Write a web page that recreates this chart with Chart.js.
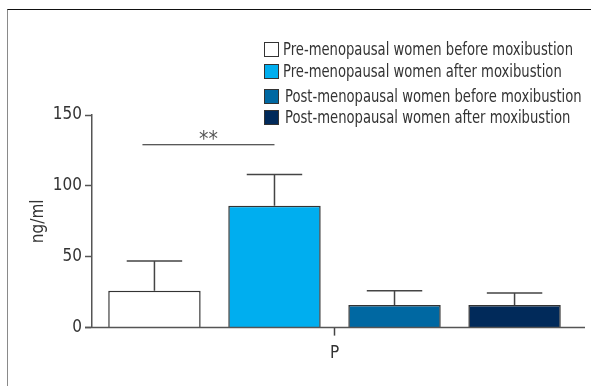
<!DOCTYPE html>
<html>
<head>
<meta charset="utf-8">
<script src="https://cdn.jsdelivr.net/npm/chart.js@4"></script>
<style>
  html, body { margin: 0; padding: 0; background: #fff; }
  #wrap { position: relative; width: 591px; height: 386px; overflow: hidden; }
  #frame { position: absolute; left: 7px; top: 9px; width: 700px; height: 500px;
           border-left: 1.5px solid #8a8a8a; border-top: 1px solid #111; }
  #chart { position: absolute; left: 0; top: 0; }
</style>
</head>
<body>
<div id="wrap">
  <div id="frame"></div>
  <canvas id="chart" width="591" height="386"></canvas>
</div>
<script>
// データ
const categories = ["P"];
const seriesLabels = [
  "Pre-menopausal women before moxibustion",
  "Pre-menopausal women after moxibustion",
  "Post-menopausal women before moxibustion",
  "Post-menopausal women after moxibustion",
];
const means = [26, 86, 16, 16];
const errorTops = [47, 108, 26, 24.5];
const yTicks = [0, 50, 100, 150];
const sigValue = 129;

const BAR_COLORS = ["#ffffff", "#00aeef", "#0068a2", "#012a5a"];
const FONT = "'Liberation Sans Narrow', 'DejaVu Sans Condensed', sans-serif";
const INK = "#333";

// エラーバー・有意差・凡例を描く
const extras = {
  id: "extras",
  afterDatasetsDraw(chart) {
    const ctx = chart.ctx;
    const y = chart.scales.y;
    ctx.save();
    ctx.strokeStyle = "#444";
    ctx.lineWidth = 1.5;
    chart.data.datasets.forEach((ds, i) => {
      const bar = chart.getDatasetMeta(i).data[0];
      const yTop = y.getPixelForValue(errorTops[i]);
      const yBar = y.getPixelForValue(means[i]);
      const cap = bar.width * 0.3;
      ctx.beginPath();
      ctx.moveTo(bar.x, yBar);
      ctx.lineTo(bar.x, yTop);
      ctx.moveTo(bar.x - cap, yTop);
      ctx.lineTo(bar.x + cap, yTop);
      ctx.stroke();
    });

    // ** の線
    const b0 = chart.getDatasetMeta(0).data[0];
    const b1 = chart.getDatasetMeta(1).data[0];
    const ys = y.getPixelForValue(sigValue);
    ctx.strokeStyle = "#222";
    ctx.lineWidth = 1.2;
    ctx.beginPath();
    ctx.moveTo(b0.x - 12, ys);
    ctx.lineTo(b1.x, ys);
    ctx.stroke();
    ctx.fillStyle = "#555";
    ctx.font = "21px " + FONT;
    ctx.textAlign = "center";
    ctx.textBaseline = "middle";
    ctx.fillText("**", (b0.x - 12 + b1.x) / 2, ys - 4);

    // x軸を0目盛りの左まで延長
    ctx.strokeStyle = "#555";
    ctx.lineWidth = 1.5;
    const y0 = y.getPixelForValue(0);
    ctx.beginPath();
    ctx.moveTo(chart.chartArea.left - 7, y0);
    ctx.lineTo(585, y0);
    ctx.stroke();

    // 凡例（文字は横方向に圧縮してコンデンス書体に寄せる）
    const rows = [49, 71, 96, 117];
    const textX = [283, 283, 285, 285];
    ctx.font = "18px " + FONT;
    ctx.textAlign = "left";
    const sx = 290 / ctx.measureText(seriesLabels[0]).width;
    chart.data.datasets.forEach((ds, i) => {
      ctx.fillStyle = ds.backgroundColor;
      ctx.fillRect(264, rows[i] - 7, 15, 15);
      ctx.strokeStyle = "#333";
      ctx.lineWidth = 1;
      ctx.strokeRect(264.5, rows[i] - 6.5, 14, 14);
      ctx.save();
      ctx.translate(textX[i], rows[i] + 1);
      ctx.scale(sx, 1);
      ctx.fillStyle = INK;
      ctx.fillText(ds.label, 0, 0);
      ctx.restore();
    });
    ctx.restore();
  },
};

new Chart(document.getElementById("chart"), {
  type: "bar",
  data: {
    labels: categories,
    datasets: seriesLabels.map((label, i) => ({
      label,
      data: [means[i]],
      backgroundColor: BAR_COLORS[i],
      borderColor: "#333",
      borderWidth: 1.5,
      categoryPercentage: 0.99,
      barPercentage: 0.77,
    })),
  },
  plugins: [extras],
  options: {
    responsive: false,
    animation: false,
    layout: { padding: { left: 8, right: 14, top: 115, bottom: 14 } },
    plugins: { legend: { display: false }, tooltip: { enabled: false } },
    scales: {
      x: {
        grid: { display: true, offset: false, drawOnChartArea: false, drawTicks: true, tickLength: 8, tickColor: "#444", tickWidth: 1.5 },
        border: { display: false },
        ticks: { color: INK, font: { family: FONT, size: 17 }, padding: 8 },
      },
      y: {
        min: 0,
        max: 150,
        afterBuildTicks: (s) => { s.ticks = yTicks.map((v) => ({ value: v })); },
        afterFit: (s) => { s.width = 84; },
        grid: { display: true, drawOnChartArea: false, drawTicks: true, tickLength: 7, tickColor: "#555", tickWidth: 1.5 },
        border: { display: true, color: "#555", width: 1.5 },
        ticks: { color: INK, font: { family: FONT, size: 17 }, padding: 3 },
        title: { display: true, text: "ng/ml", color: INK, font: { family: FONT, size: 17 }, padding: { top: 20, bottom: 0 } },
      },
    },
  },
});
</script>
</body>
</html>
